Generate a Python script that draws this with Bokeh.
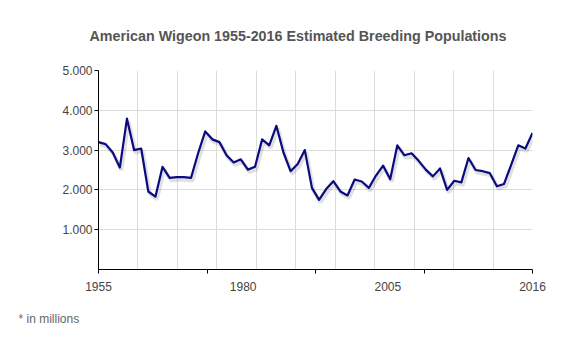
from bokeh.plotting import figure
from bokeh.models import FixedTicker, LinearAxis, Range1d, Grid, Title
from bokeh.embed import file_html
from bokeh.resources import INLINE

# ---- data (estimated breeding population, thousands) ----
years = list(range(1955, 2017))
population = [
    3200, 3150, 2940, 2560, 3790, 3000, 3040, 1960, 1830, 2580,
    2300, 2320, 2320, 2300, 2920, 3470, 3270, 3200, 2870, 2690,
    2770, 2510, 2580, 3270, 3120, 3610, 2940, 2470, 2650, 3000,
    2050, 1750, 2020, 2220, 1960, 1860, 2260, 2210, 2050, 2360,
    2610, 2270, 3120, 2870, 2920, 2730, 2510, 2340, 2540, 2000,
    2230, 2190, 2800, 2500, 2470, 2420, 2090, 2150, 2630, 3120,
    3040, 3430,
]
y_ticks = [1000, 2000, 3000, 4000, 5000]
y_tick_labels = ["1.000", "2.000", "3.000", "4.000", "5.000"]
x_tick_labels = ["1955", "1980", "2005", "2016"]
title_text = "American Wigeon 1955-2016 Estimated Breeding Populations"
note_text = "* in millions"

W, H = 580, 350
ml, mr, mt, mb = 98, 48, 70, 81
x0, x1 = years[0], years[-1]
y0, y1 = 0, 5000

p = figure(width=W, height=H, output_backend="svg", toolbar_location=None,
           x_range=Range1d(x0, x1), y_range=Range1d(y0, y1),
           x_axis_location=None,
           min_border_left=ml, min_border_right=mr,
           min_border_top=mt, min_border_bottom=mb)
p.outline_line_color = None
p.background_fill_color = "white"
p.border_fill_color = "white"

# grids
p.xgrid.grid_line_color = None
p.ygrid.ticker = FixedTicker(ticks=y_ticks)
p.ygrid.grid_line_color = "#dcdcdc"
n_vgrid = 11
gx = [x0 + k * (x1 - x0) / n_vgrid for k in range(n_vgrid + 1)]
p.add_layout(Grid(dimension=0, ticker=FixedTicker(ticks=gx), grid_line_color="#dcdcdc"))

# y axis
ya = p.yaxis[0]
ya.ticker = FixedTicker(ticks=y_ticks)
ya.major_label_overrides = {t: l for t, l in zip(y_ticks, y_tick_labels)}
ya.major_tick_out = 4
ya.major_tick_in = 0
ya.minor_tick_out = 0
ya.minor_tick_in = 0
ya.major_label_standoff = 2
ya.axis_line_color = "black"
ya.major_tick_line_color = "black"
ya.major_label_text_font = "Liberation Sans"
ya.major_label_text_font_size = "12px"
ya.major_label_text_color = "#444444"

# x axis (evenly spaced labels like the reference)
p.extra_x_ranges = {"lab": Range1d(0, len(x_tick_labels) - 1)}
nlab = len(x_tick_labels) - 1
minor = [k * nlab / 4 for k in range(5)]
xa = LinearAxis(x_range_name="lab",
                ticker=FixedTicker(ticks=list(range(len(x_tick_labels))), minor_ticks=minor),
                major_label_overrides={i: l for i, l in enumerate(x_tick_labels)})
xa.major_tick_out = 0
xa.major_tick_in = 0
xa.minor_tick_out = 4
xa.minor_tick_in = 0
xa.minor_tick_line_color = "black"
xa.axis_line_color = "black"
xa.major_label_standoff = 8
xa.major_label_text_font = "Liberation Sans"
xa.major_label_text_font_size = "12px"
xa.major_label_text_color = "#444444"
p.add_layout(xa, "below")

# shadow + line
fw = W - ml - mr
fh = H - mt - mb
px_x = (x1 - x0) / fw
px_y = (y1 - y0) / fh
p.line([x + 1.5 * px_x for x in years], [v - 2.5 * px_y for v in population],
       line_color="black", line_alpha=0.12, line_width=4)
p.line(years, population, line_color="#0b0b80", line_width=2.2, line_join="round")

# title and footnote
p.add_layout(Title(text=title_text, align="left", offset=-9, standoff=50,
                   vertical_align="top",
                   text_font="Liberation Sans", text_font_style="bold",
                   text_font_size="14.3px", text_color="#555555"), "above")
p.add_layout(Title(text=note_text, align="left", offset=-80, standoff=32,
                   text_font="Liberation Sans", text_font_style="normal",
                   text_font_size="12px", text_color="#666666"), "below")

open("out.html", "w").write(file_html(p, INLINE))
